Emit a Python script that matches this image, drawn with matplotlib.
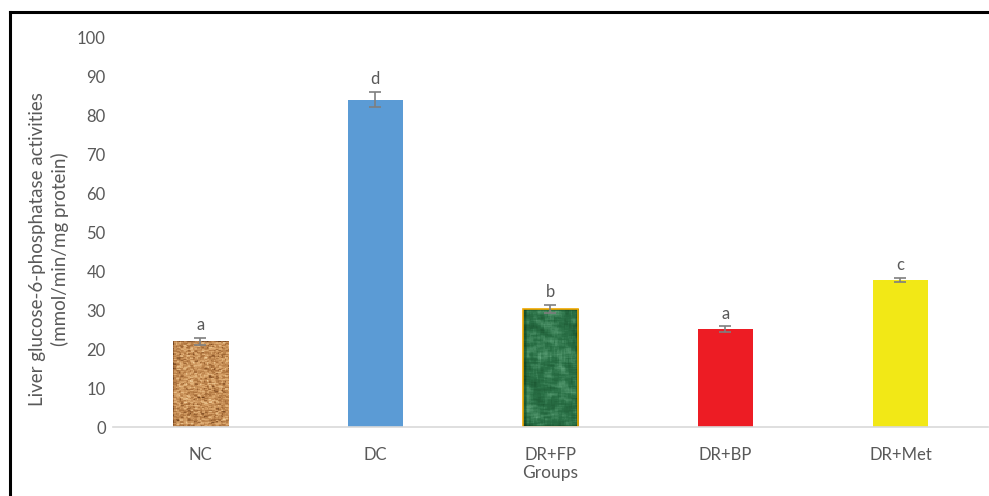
import numpy as np
import matplotlib.pyplot as plt
from matplotlib.colors import LinearSegmentedColormap
from matplotlib.lines import Line2D

plt.rcParams['font.family'] = ['Lato', 'DejaVu Sans']

groups = ['NC', 'DC', 'DR+FP', 'DR+BP', 'DR+Met']
activity = [22.0, 84.0, 30.3, 25.1, 37.8]
sem = [0.9, 2.0, 1.0, 0.7, 0.5]
letters = ['a', 'd', 'b', 'a', 'c']
colors = ['#c48a52', '#5b9bd5', '#1d5a32', '#ed1c24', '#f2e816']
edges = ['none', 'none', '#f0a800', 'none', 'none']

GREY = '#595959'

fig = plt.figure(figsize=(9.89, 4.96), dpi=100)
ax = fig.add_axes([0.114, 0.139, 0.885, 0.786])

x = np.arange(len(groups))
bars = ax.bar(x, activity, width=0.315, color=colors, edgecolor=edges,
              linewidth=1.2, zorder=2)
ax.errorbar(x, activity, yerr=sem, fmt='none', ecolor='#7f7f7f',
            elinewidth=1.2, capsize=4, capthick=1.2, zorder=4)

# texture fills for the cork (NC) and marble (DR+FP) bars
rng = np.random.default_rng(7)
cork = LinearSegmentedColormap.from_list('cork', ['#6b3d1a', '#b07640', '#d9a46a', '#f0cf9c'])
marble = LinearSegmentedColormap.from_list('marble', ['#0b2f1a', '#17502c', '#2a7046', '#5fa37a'])
for i, cmap, smooth in [(0, cork, 2), (2, marble, 6)]:
    b = bars[i]
    noise = rng.random((120, 40))
    k = np.ones(smooth) / smooth
    noise = np.apply_along_axis(lambda r: np.convolve(r, k, mode='same'), 0, noise)
    noise = np.apply_along_axis(lambda r: np.convolve(r, k, mode='same'), 1, noise)
    noise = (noise - noise.min()) / (noise.max() - noise.min())
    x0, w, h = b.get_x(), b.get_width(), b.get_height()
    im = ax.imshow(noise, cmap=cmap, extent=[x0, x0 + w, 0, h], aspect='auto',
                   interpolation='nearest', zorder=2.5)
    im.set_clip_path(b)
    b.set_zorder(3)
    b.set_facecolor('none')

for xi, v, e, t in zip(x, activity, sem, letters):
    ax.text(xi, v + e + 1.2, t, ha='center', va='bottom', fontsize=12, color=GREY)

ax.set_xlim(-0.5, len(groups) - 0.5)
ax.set_ylim(0, 100)
ax.set_yticks(range(0, 101, 10))
ax.set_xticks(x)
ax.set_xticklabels(groups)
ax.tick_params(axis='both', length=0, colors=GREY, labelsize=12)
ax.tick_params(axis='y', pad=5)
ax.tick_params(axis='x', pad=14)
for s in ['top', 'right', 'left']:
    ax.spines[s].set_visible(False)
ax.spines['bottom'].set_color('#d9d9d9')
ax.spines['bottom'].set_linewidth(1.2)
ax.spines['bottom'].set_zorder(5)

ax.set_xlabel('Groups', fontsize=12.5, color=GREY, labelpad=2)
ax.set_ylabel('Liver glucose-6-phosphatase activities\n(mmol/min/mg protein)',
              fontsize=13.5, color=GREY, linespacing=1.3)
ax.yaxis.set_label_coords(-0.05, 0.456)

# frame lines along the top and left edge
fig.add_artist(Line2D([10 / 989, 1], [1 - 12 / 496, 1 - 12 / 496],
                      color='black', linewidth=2.2, transform=fig.transFigure))
fig.add_artist(Line2D([10 / 989, 10 / 989], [0, 1 - 12 / 496],
                      color='black', linewidth=2.2, transform=fig.transFigure))

fig.savefig('out.png', dpi=100)
